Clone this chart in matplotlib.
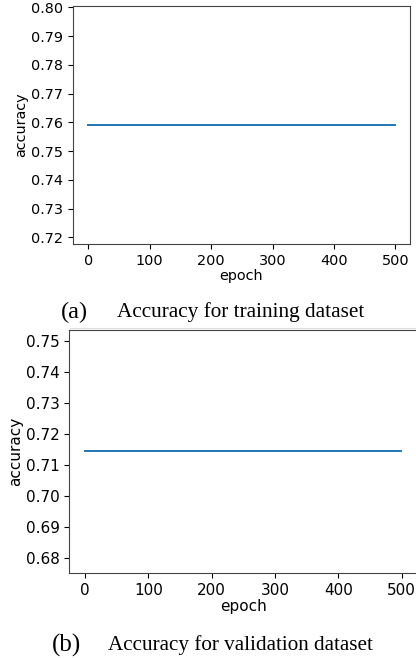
import matplotlib.pyplot as plt
from matplotlib.lines import Line2D
import numpy as np

# Dados: acurácia constante durante 500 épocas
epocas = np.arange(500)
acc_treino = np.full(500, 0.7592)
acc_validacao = np.full(500, 0.7144)

yticks_treino = [0.72, 0.73, 0.74, 0.75, 0.76, 0.77, 0.78, 0.79, 0.80]
yticks_validacao = [0.68, 0.69, 0.70, 0.71, 0.72, 0.73, 0.74, 0.75]
xticks = [0, 100, 200, 300, 400, 500]

legenda_a = "Accuracy for training dataset"
legenda_b = "Accuracy for validation dataset"

W, H = 416, 658
fig = plt.figure(figsize=(W / 100, H / 100), dpi=100)


def eixo(px_esq, px_dir, px_topo, px_base):
    return fig.add_axes([px_esq / W, (H - px_base) / H,
                         (px_dir - px_esq) / W, (px_base - px_topo) / H])


# (a) treino
ax1 = eixo(73, 410, 6, 244)
ax1.plot(epocas, acc_treino, color='#1f77b4', linewidth=1.4)
ax1.set_ylim(0.7177, 0.8005)
ax1.set_yticks(yticks_treino)
ax1.set_yticklabels([f"{v:.2f}" for v in yticks_treino])
ax1.set_xticks(xticks)
ax1.tick_params(labelsize=10.4)
ax1.set_xlabel("epoch", fontsize=10.4, labelpad=1)
ax1.set_ylabel("accuracy", fontsize=10.4, labelpad=2)

# (b) validação
ax2 = eixo(69.3, 416.8, 330, 573.3)
ax2.plot(epocas, acc_validacao, color='#1f77b4', linewidth=1.4)
ax2.set_ylim(0.6751, 0.7534)
ax2.set_yticks(yticks_validacao)
ax2.set_yticklabels([f"{v:.2f}" for v in yticks_validacao])
ax2.set_xticks(xticks)
ax2.tick_params(labelsize=11)
ax2.set_xlabel("epoch", fontsize=11, labelpad=1)
ax2.set_ylabel("accuracy", fontsize=11, labelpad=2)

for ax in (ax1, ax2):
    for s in ax.spines.values():
        s.set_color('#444444')

# Legendas em serifa
serif = ['Liberation Serif', 'DejaVu Serif']
fig.text(61 / W, 1 - 312 / H, "(a)", family=serif, fontsize=17.5, va='center', ha='left')
fig.text(117 / W, 1 - 312 / H, legenda_a, family=serif, fontsize=15.3, va='center', ha='left')
fig.text(52 / W, 1 - 645 / H, "(b)", family=serif, fontsize=18, va='center', ha='left')
fig.text(108 / W, 1 - 645 / H, legenda_b, family=serif, fontsize=15.2, va='center', ha='left')

# linha separadora clara
fig.add_artist(Line2D([70 / W, 1.0], [1 - 328 / H, 1 - 328 / H],
                      transform=fig.transFigure, color='#dddddd', linewidth=0.8))

fig.savefig("out.png", dpi=100)
